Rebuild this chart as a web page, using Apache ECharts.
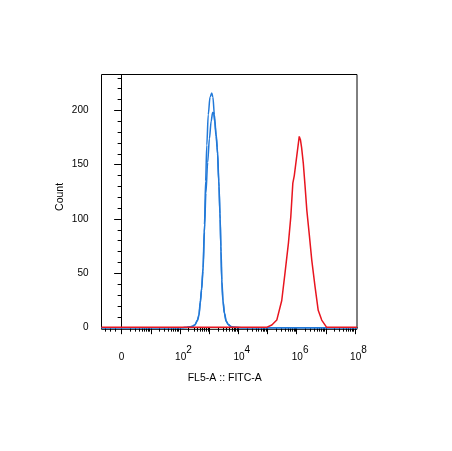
<!DOCTYPE html>
<html><head><meta charset="utf-8">
<script src="https://cdn.jsdelivr.net/npm/echarts@6/dist/echarts.min.js"></script>
<style>html,body{margin:0;padding:0;background:#fff}#c{width:452px;height:451px}</style>
</head><body><div id="c"></div>
<script>
// x positions are display decades: 0 -> "0", 2 -> 10^2, 4 -> 10^4 ...
const xMin = -0.69, xMax = 8.07;
const yMin = -1.5, yMax = 233;
const xMajorTicks = [0,1,2,3,4,5,6,7,8];
const xLabelTicks = [0,2,4,6,8];
const xMinorTicks = [-0.57,-0.40,-0.23,
  0.301,0.477,0.602,0.699,0.778,0.845,0.903,0.954,
  1.301,1.477,1.602,1.699,1.778,1.845,1.903,1.954,
  2.301,2.477,2.602,2.699,2.778,2.845,2.903,2.954,
  3.301,3.477,3.602,3.699,3.778,3.845,3.903,3.954,
  4.301,4.477,4.602,4.699,4.778,4.845,4.903,4.954,
  5.301,5.477,5.602,5.699,5.778,5.845,5.903,5.954,
  6.301,6.477,6.602,6.699,6.778,6.845,6.903,6.954,
  7.301,7.477,7.602,7.699,7.778,7.845,7.903,7.954];
const yMajorTicks = [0,50,100,150,200];
const yMinorTicks = [10,20,30,40,60,70,80,90,110,120,130,140,160,170,180,190,210,220,230];

const blueTallX = [-0.69,2.1,2.23,2.40,2.51,2.60,2.65,2.70,2.74,2.79,2.84,2.88,2.92,2.97,3.03,3.09,3.13,3.18,3.24,3.28,3.33,3.37,3.40,3.43,3.47,3.52,3.58,3.65,3.74,3.85,4.1,8.07];
const blueTallY = [0,0,0.2,1,2.5,7,12,25,36,55,95,135,168,196,212,216,212,196,178,166,135,105,75,44,25,13.5,6,3,1,0.3,0,0];
const blueLowX = [-0.69,2.1,2.23,2.40,2.51,2.60,2.65,2.70,2.74,2.79,2.84,2.89,2.95,3.01,3.07,3.12,3.15,3.19,3.24,3.29,3.34,3.38,3.41,3.44,3.48,3.53,3.59,3.66,3.75,3.86,4.1,8.07];
const blueLowY = [0,0,0.2,1,2.5,6.5,11,23,34,52,88,124,152,174,190,198,198,190,176,160,130,100,70,42,24,13,6,3,1,0.3,0,0];
const redX = [-0.69,4.97,5.15,5.32,5.49,5.60,5.72,5.80,5.87,5.92,6.00,6.09,6.13,6.17,6.23,6.29,6.35,6.44,6.52,6.63,6.74,6.86,7.03,8.07];
const redY = [0.3,0.3,2.5,7,25,50,78,102,133,140,157,176,173,166,151,130,108,84,62,38,16,7,0.3,0.3];

const pairs = (xs, ys) => xs.map((x, i) => [x, ys[i]]);
const font = 'Liberation Sans, Arial, sans-serif';
const chart = echarts.init(document.getElementById('c'), null, {renderer: 'canvas'});
chart.setOption({
  animation: false,
  backgroundColor: '#fff',
  grid: {left: 101.5, right: 95, top: 74.5, bottom: 121.7, show: true, borderColor: '#000', borderWidth: 1, backgroundColor: 'transparent'},
  xAxis: [{
    type: 'value', min: xMin, max: xMax, position: 'bottom',
    name: 'FL5-A :: FITC-A', nameLocation: 'middle', nameGap: 43, nameMoveOverlap: false,
    nameTextStyle: {fontFamily: font, fontSize: 10.5, color: '#000', padding: [0, 9, 0, 0]},
    axisLine: {show: true, lineStyle: {color: '#000', width: 1}},
    axisTick: {show: true, customValues: xMajorTicks, length: 6.5, lineStyle: {color: '#000', width: 1}},
    axisLabel: {customValues: xLabelTicks, margin: 19, fontFamily: font, color: '#000',
      formatter: v => v === 0 ? '{z|0}' : '{b|10}{s|' + v + '}',
      rich: {
        z: {fontFamily: font, fontSize: 10, lineHeight: 10, padding: [7,0,0,0], color: '#000'},
        b: {fontFamily: font, fontSize: 10, lineHeight: 10, padding: [7,0,0,7], color: '#000'},
        s: {fontFamily: font, fontSize: 10, lineHeight: 10, padding: [0,0,7,0], color: '#000'}
      }},
    splitLine: {show: false}
  }, {
    type: 'value', min: xMin, max: xMax, position: 'bottom', offset: 0,
    axisLine: {show: false},
    axisTick: {show: true, customValues: xMinorTicks, length: 4, lineStyle: {color: '#000', width: 1}},
    axisLabel: {show: false}, splitLine: {show: false}
  }],
  yAxis: [{
    type: 'value', min: yMin, max: yMax, position: 'left',
    name: 'Count', nameLocation: 'middle', nameGap: 36, nameMoveOverlap: false,
    nameTextStyle: {fontFamily: font, fontSize: 10.5, color: '#000', padding: [0, 0, 0, 10]},
    axisLine: {show: true, lineStyle: {color: '#000', width: 1}},
    axisTick: {show: true, customValues: yMajorTicks, length: 7.5, lineStyle: {color: '#000', width: 1}},
    axisLabel: {customValues: yMajorTicks, margin: 13, fontFamily: font, fontSize: 10, color: '#000'},
    splitLine: {show: false}
  }, {
    type: 'value', min: yMin, max: yMax, position: 'left', offset: 0,
    axisLine: {show: false},
    axisTick: {show: true, customValues: yMinorTicks, length: 4, lineStyle: {color: '#000', width: 1}},
    axisLabel: {show: false}, splitLine: {show: false}
  }],
  series: [
    {type: 'line', data: pairs(blueLowX, blueLowY), showSymbol: false, smooth: 0.3, smoothMonotone: 'x',
     lineStyle: {color: '#2279d8', width: 1.5}, itemStyle: {color: '#2279d8'}},
    {type: 'line', data: pairs(blueTallX, blueTallY), showSymbol: false, smooth: 0.3, smoothMonotone: 'x',
     lineStyle: {color: '#2279d8', width: 1.5}, itemStyle: {color: '#2279d8'}},
    {type: 'line', data: pairs(redX, redY), showSymbol: false, smooth: false,
     lineStyle: {color: '#e8151f', width: 1.5}, itemStyle: {color: '#e8151f'}}
  ]
});
</script></body></html>
